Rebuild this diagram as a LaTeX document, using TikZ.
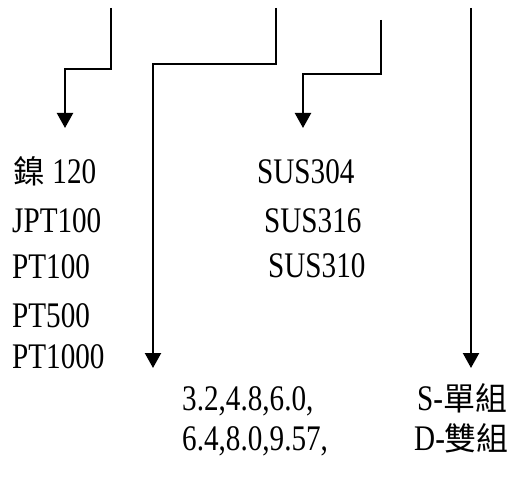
\documentclass[tikz,border=0pt]{standalone}
\usepackage{fontspec}
\setmainfont{Liberation Serif}[FakeStretch=0.81]
\newfontfamily\cjk{Noto Sans CJK TC}
\newcommand{\hanzi}[1]{{\cjk\fontsize{32}{40}\selectfont #1}}
\usetikzlibrary{arrows.meta}

\begin{document}
\begin{tikzpicture}[x=1pt,y=-1pt,
    lead/.style={line width=2.2pt,-{Triangle[width=16pt,length=15pt]}},
    item/.style={anchor=base west,inner sep=0pt,font=\fontsize{36}{40}\selectfont}]
    \useasboundingbox (0,0) rectangle (516,484);

    \coordinate (s1) at (111,8);
    \coordinate (s2) at (276,8);
    \coordinate (s3) at (381,20);
    \coordinate (s4) at (471,8);
    \coordinate (t1) at (65,128);
    \coordinate (t2) at (153,368);
    \coordinate (t3) at (303,128);
    \coordinate (t4) at (471,368);

    \draw[lead] (s1) -- ++(0,61) -| (t1);
    \draw[lead] (s2) -- ++(0,56) -| (t2);
    \draw[lead] (s3) -- ++(0,54) -| (t3);
    \draw[lead] (s4) -- (t4);

    \node[item] (ni120) at (13,183) {\hanzi{鎳} 120};
    \node[item] (jpt100) at (12,232) {JPT100};
    \node[item] (pt100) at (12,278) {PT100};
    \node[item] (pt500) at (12,327) {PT500};
    \node[item] (pt1000) at (12,368) {PT1000};

    \node[item] (sus304) at (257,183) {SUS304};
    \node[item] (sus316) at (264,232) {SUS316};
    \node[item] (sus310) at (268,277) {SUS310};

    \node[item] (dia1) at (182,410) {3.2,4.8,6.0,};
    \node[item] (dia2) at (182,450) {6.4,8.0,9.57,};
    \node[item] (single) at (417,410) {S-\hanzi{單組}};
    \node[item] (double) at (414,450) {D-\hanzi{雙組}};
\end{tikzpicture}
\end{document}
